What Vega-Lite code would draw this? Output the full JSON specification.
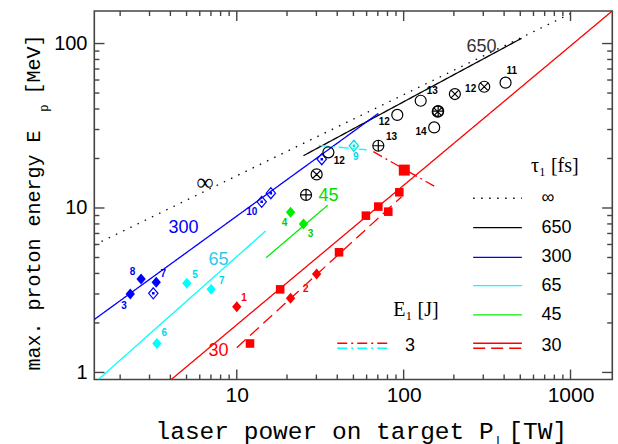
{
 "$schema": "https://vega.github.io/schema/vega-lite/v6.json",
 "width": 518,
 "height": 368.5,
 "autosize": {"type": "none"},
 "padding": {"left": 94.3, "top": 11, "right": 5.7, "bottom": 64.5},
 "background": "white",
 "config": {
  "view": {"stroke": "#444", "strokeWidth": 1.6},
  "axis": {"domain": false, "grid": false, "ticks": false, "labelColor": "#000", "titleColor": "#000"}
 },
 "datasets": {
  "ticks": [
   {"tid": "b10", "x": 10, "y": 0.906}, {"tid": "b10", "x": 10, "y": 1.042},
   {"tid": "b100", "x": 100, "y": 0.906}, {"tid": "b100", "x": 100, "y": 1.042},
   {"tid": "b1000", "x": 1000, "y": 0.906}, {"tid": "b1000", "x": 1000, "y": 1.042},
   {"tid": "t10", "x": 10, "y": 157.7}, {"tid": "t10", "x": 10, "y": 137.1},
   {"tid": "t100", "x": 100, "y": 157.7}, {"tid": "t100", "x": 100, "y": 137.1},
   {"tid": "t1000", "x": 1000, "y": 157.7}, {"tid": "t1000", "x": 1000, "y": 137.1},
   {"tid": "b2", "x": 2, "y": 0.906}, {"tid": "b2", "x": 2, "y": 0.971},
   {"tid": "b3", "x": 3, "y": 0.906}, {"tid": "b3", "x": 3, "y": 0.971},
   {"tid": "b4", "x": 4, "y": 0.906}, {"tid": "b4", "x": 4, "y": 0.971},
   {"tid": "b5", "x": 5, "y": 0.906}, {"tid": "b5", "x": 5, "y": 0.971},
   {"tid": "b6", "x": 6, "y": 0.906}, {"tid": "b6", "x": 6, "y": 0.971},
   {"tid": "b7", "x": 7, "y": 0.906}, {"tid": "b7", "x": 7, "y": 0.971},
   {"tid": "b8", "x": 8, "y": 0.906}, {"tid": "b8", "x": 8, "y": 0.971},
   {"tid": "b9", "x": 9, "y": 0.906}, {"tid": "b9", "x": 9, "y": 0.971},
   {"tid": "b20", "x": 20, "y": 0.906}, {"tid": "b20", "x": 20, "y": 0.971},
   {"tid": "b30", "x": 30, "y": 0.906}, {"tid": "b30", "x": 30, "y": 0.971},
   {"tid": "b40", "x": 40, "y": 0.906}, {"tid": "b40", "x": 40, "y": 0.971},
   {"tid": "b50", "x": 50, "y": 0.906}, {"tid": "b50", "x": 50, "y": 0.971},
   {"tid": "b60", "x": 60, "y": 0.906}, {"tid": "b60", "x": 60, "y": 0.971},
   {"tid": "b70", "x": 70, "y": 0.906}, {"tid": "b70", "x": 70, "y": 0.971},
   {"tid": "b80", "x": 80, "y": 0.906}, {"tid": "b80", "x": 80, "y": 0.971},
   {"tid": "b90", "x": 90, "y": 0.906}, {"tid": "b90", "x": 90, "y": 0.971},
   {"tid": "b200", "x": 200, "y": 0.906}, {"tid": "b200", "x": 200, "y": 0.971},
   {"tid": "b300", "x": 300, "y": 0.906}, {"tid": "b300", "x": 300, "y": 0.971},
   {"tid": "b400", "x": 400, "y": 0.906}, {"tid": "b400", "x": 400, "y": 0.971},
   {"tid": "b500", "x": 500, "y": 0.906}, {"tid": "b500", "x": 500, "y": 0.971},
   {"tid": "b600", "x": 600, "y": 0.906}, {"tid": "b600", "x": 600, "y": 0.971},
   {"tid": "b700", "x": 700, "y": 0.906}, {"tid": "b700", "x": 700, "y": 0.971},
   {"tid": "b800", "x": 800, "y": 0.906}, {"tid": "b800", "x": 800, "y": 0.971},
   {"tid": "b900", "x": 900, "y": 0.906}, {"tid": "b900", "x": 900, "y": 0.971},
   {"tid": "t2", "x": 2, "y": 157.7}, {"tid": "t2", "x": 2, "y": 147.0},
   {"tid": "t3", "x": 3, "y": 157.7}, {"tid": "t3", "x": 3, "y": 147.0},
   {"tid": "t4", "x": 4, "y": 157.7}, {"tid": "t4", "x": 4, "y": 147.0},
   {"tid": "t5", "x": 5, "y": 157.7}, {"tid": "t5", "x": 5, "y": 147.0},
   {"tid": "t6", "x": 6, "y": 157.7}, {"tid": "t6", "x": 6, "y": 147.0},
   {"tid": "t7", "x": 7, "y": 157.7}, {"tid": "t7", "x": 7, "y": 147.0},
   {"tid": "t8", "x": 8, "y": 157.7}, {"tid": "t8", "x": 8, "y": 147.0},
   {"tid": "t9", "x": 9, "y": 157.7}, {"tid": "t9", "x": 9, "y": 147.0},
   {"tid": "t20", "x": 20, "y": 157.7}, {"tid": "t20", "x": 20, "y": 147.0},
   {"tid": "t30", "x": 30, "y": 157.7}, {"tid": "t30", "x": 30, "y": 147.0},
   {"tid": "t40", "x": 40, "y": 157.7}, {"tid": "t40", "x": 40, "y": 147.0},
   {"tid": "t50", "x": 50, "y": 157.7}, {"tid": "t50", "x": 50, "y": 147.0},
   {"tid": "t60", "x": 60, "y": 157.7}, {"tid": "t60", "x": 60, "y": 147.0},
   {"tid": "t70", "x": 70, "y": 157.7}, {"tid": "t70", "x": 70, "y": 147.0},
   {"tid": "t80", "x": 80, "y": 157.7}, {"tid": "t80", "x": 80, "y": 147.0},
   {"tid": "t90", "x": 90, "y": 157.7}, {"tid": "t90", "x": 90, "y": 147.0},
   {"tid": "t200", "x": 200, "y": 157.7}, {"tid": "t200", "x": 200, "y": 147.0},
   {"tid": "t300", "x": 300, "y": 157.7}, {"tid": "t300", "x": 300, "y": 147.0},
   {"tid": "t400", "x": 400, "y": 157.7}, {"tid": "t400", "x": 400, "y": 147.0},
   {"tid": "t500", "x": 500, "y": 157.7}, {"tid": "t500", "x": 500, "y": 147.0},
   {"tid": "t600", "x": 600, "y": 157.7}, {"tid": "t600", "x": 600, "y": 147.0},
   {"tid": "t700", "x": 700, "y": 157.7}, {"tid": "t700", "x": 700, "y": 147.0},
   {"tid": "t800", "x": 800, "y": 157.7}, {"tid": "t800", "x": 800, "y": 147.0},
   {"tid": "t900", "x": 900, "y": 157.7}, {"tid": "t900", "x": 900, "y": 147.0},
   {"tid": "l1", "x": 1.4, "y": 1}, {"tid": "l1", "x": 1.611, "y": 1},
   {"tid": "l10", "x": 1.4, "y": 10}, {"tid": "l10", "x": 1.611, "y": 10},
   {"tid": "l100", "x": 1.4, "y": 100}, {"tid": "l100", "x": 1.611, "y": 100},
   {"tid": "r1", "x": 1780, "y": 1}, {"tid": "r1", "x": 1547, "y": 1},
   {"tid": "r10", "x": 1780, "y": 10}, {"tid": "r10", "x": 1547, "y": 10},
   {"tid": "r100", "x": 1780, "y": 100}, {"tid": "r100", "x": 1547, "y": 100},
   {"tid": "l2", "x": 1.4, "y": 2}, {"tid": "l2", "x": 1.502, "y": 2},
   {"tid": "l3", "x": 1.4, "y": 3}, {"tid": "l3", "x": 1.502, "y": 3},
   {"tid": "l4", "x": 1.4, "y": 4}, {"tid": "l4", "x": 1.502, "y": 4},
   {"tid": "l5", "x": 1.4, "y": 5}, {"tid": "l5", "x": 1.502, "y": 5},
   {"tid": "l6", "x": 1.4, "y": 6}, {"tid": "l6", "x": 1.502, "y": 6},
   {"tid": "l7", "x": 1.4, "y": 7}, {"tid": "l7", "x": 1.502, "y": 7},
   {"tid": "l8", "x": 1.4, "y": 8}, {"tid": "l8", "x": 1.502, "y": 8},
   {"tid": "l9", "x": 1.4, "y": 9}, {"tid": "l9", "x": 1.502, "y": 9},
   {"tid": "l20", "x": 1.4, "y": 20}, {"tid": "l20", "x": 1.502, "y": 20},
   {"tid": "l30", "x": 1.4, "y": 30}, {"tid": "l30", "x": 1.502, "y": 30},
   {"tid": "l40", "x": 1.4, "y": 40}, {"tid": "l40", "x": 1.502, "y": 40},
   {"tid": "l50", "x": 1.4, "y": 50}, {"tid": "l50", "x": 1.502, "y": 50},
   {"tid": "l60", "x": 1.4, "y": 60}, {"tid": "l60", "x": 1.502, "y": 60},
   {"tid": "l70", "x": 1.4, "y": 70}, {"tid": "l70", "x": 1.502, "y": 70},
   {"tid": "l80", "x": 1.4, "y": 80}, {"tid": "l80", "x": 1.502, "y": 80},
   {"tid": "l90", "x": 1.4, "y": 90}, {"tid": "l90", "x": 1.502, "y": 90},
   {"tid": "r2", "x": 1780, "y": 2}, {"tid": "r2", "x": 1659, "y": 2},
   {"tid": "r3", "x": 1780, "y": 3}, {"tid": "r3", "x": 1659, "y": 3},
   {"tid": "r4", "x": 1780, "y": 4}, {"tid": "r4", "x": 1659, "y": 4},
   {"tid": "r5", "x": 1780, "y": 5}, {"tid": "r5", "x": 1659, "y": 5},
   {"tid": "r6", "x": 1780, "y": 6}, {"tid": "r6", "x": 1659, "y": 6},
   {"tid": "r7", "x": 1780, "y": 7}, {"tid": "r7", "x": 1659, "y": 7},
   {"tid": "r8", "x": 1780, "y": 8}, {"tid": "r8", "x": 1659, "y": 8},
   {"tid": "r9", "x": 1780, "y": 9}, {"tid": "r9", "x": 1659, "y": 9},
   {"tid": "r20", "x": 1780, "y": 20}, {"tid": "r20", "x": 1659, "y": 20},
   {"tid": "r30", "x": 1780, "y": 30}, {"tid": "r30", "x": 1659, "y": 30},
   {"tid": "r40", "x": 1780, "y": 40}, {"tid": "r40", "x": 1659, "y": 40},
   {"tid": "r50", "x": 1780, "y": 50}, {"tid": "r50", "x": 1659, "y": 50},
   {"tid": "r60", "x": 1780, "y": 60}, {"tid": "r60", "x": 1659, "y": 60},
   {"tid": "r70", "x": 1780, "y": 70}, {"tid": "r70", "x": 1659, "y": 70},
   {"tid": "r80", "x": 1780, "y": 80}, {"tid": "r80", "x": 1659, "y": 80},
   {"tid": "r90", "x": 1780, "y": 90}, {"tid": "r90", "x": 1659, "y": 90}
  ],
  "lines": [
   {"line": "inf", "style": "inf", "x": 1.4, "y": 5.96},
   {"line": "inf", "style": "inf", "x": 1000, "y": 152},
   {"line": "650", "style": "650", "x": 25.1, "y": 20.8},
   {"line": "650", "style": "650", "x": 509, "y": 107.6},
   {"line": "300", "style": "300", "x": 1.4, "y": 2.1},
   {"line": "300", "style": "300", "x": 70.5, "y": 37.6},
   {"line": "65", "style": "65", "x": 1.48, "y": 0.906},
   {"line": "65", "style": "65", "x": 14.9, "y": 7.25},
   {"line": "45", "style": "45", "x": 15.0, "y": 4.99},
   {"line": "45", "style": "45", "x": 35.1, "y": 10.4},
   {"line": "30", "style": "30", "x": 4.05, "y": 0.906},
   {"line": "30", "style": "30", "x": 1778, "y": 157.7},
   {"line": "30d", "style": "30d", "x": 10, "y": 1.415},
   {"line": "30d", "style": "30d", "x": 97.2, "y": 11.7},
   {"line": "3c", "style": "3c", "x": 31, "y": 24.0},
   {"line": "3c", "style": "3c", "x": 60, "y": 22.6},
   {"line": "3r", "style": "3r", "x": 65.8, "y": 22.0},
   {"line": "3r", "style": "3r", "x": 153.9, "y": 13.5},
   {"line": "Linf", "style": "inf", "x": 261, "y": 11.46},
   {"line": "Linf", "style": "inf", "x": 511, "y": 11.46},
   {"line": "L650", "style": "650", "x": 261, "y": 7.59},
   {"line": "L650", "style": "650", "x": 511, "y": 7.59},
   {"line": "L300", "style": "300", "x": 261, "y": 5.01},
   {"line": "L300", "style": "300", "x": 511, "y": 5.01},
   {"line": "L65", "style": "65", "x": 261, "y": 3.37},
   {"line": "L65", "style": "65", "x": 511, "y": 3.37},
   {"line": "L45", "style": "45", "x": 261, "y": 2.24},
   {"line": "L45", "style": "45", "x": 511, "y": 2.24},
   {"line": "L30", "style": "30", "x": 261, "y": 1.505},
   {"line": "L30", "style": "30", "x": 511, "y": 1.505},
   {"line": "L30d", "style": "30d", "x": 261, "y": 1.403},
   {"line": "L30d", "style": "30d", "x": 511, "y": 1.403},
   {"line": "L3r", "style": "3r", "x": 40, "y": 1.505},
   {"line": "L3r", "style": "3r", "x": 80.9, "y": 1.505},
   {"line": "L3c", "style": "3c", "x": 40, "y": 1.403},
   {"line": "L3c", "style": "3c", "x": 80.9, "y": 1.403}
  ],
  "fpts": [
   {"g": "blue", "sym": "diamond", "x": 2.30, "y": 3.0},
   {"g": "blue", "sym": "diamond", "x": 2.67, "y": 3.70},
   {"g": "blue", "sym": "diamond", "x": 3.29, "y": 3.53},
   {"g": "cyan", "sym": "diamond", "x": 5.02, "y": 3.49},
   {"g": "cyan", "sym": "diamond", "x": 7.02, "y": 3.2},
   {"g": "cyan", "sym": "diamond", "x": 3.32, "y": 1.5},
   {"g": "green", "sym": "diamond", "x": 21.0, "y": 9.42},
   {"g": "green", "sym": "diamond", "x": 25.1, "y": 8.0},
   {"g": "red", "sym": "diamond", "x": 10, "y": 2.51},
   {"g": "red", "sym": "diamond", "x": 21.0, "y": 2.83},
   {"g": "red", "sym": "diamond", "x": 30.1, "y": 3.97},
   {"g": "red", "sym": "square", "x": 94.2, "y": 12.46},
   {"g": "red", "sym": "square", "x": 70.5, "y": 10.2},
   {"g": "red", "sym": "square", "x": 80.9, "y": 9.5},
   {"g": "red", "sym": "square", "x": 59.4, "y": 8.98},
   {"g": "red", "sym": "square", "x": 41.0, "y": 5.38},
   {"g": "red", "sym": "square", "x": 18.2, "y": 3.2},
   {"g": "red", "sym": "square", "x": 12.0, "y": 1.5},
   {"g": "red", "sym": "bigsquare", "x": 100.9, "y": 17.0}
  ],
  "opts": [
   {"g": "blue", "sym": "dotdiamond", "x": 3.16, "y": 3.03},
   {"g": "blue", "sym": "dotdiamond", "x": 14.1, "y": 10.9},
   {"g": "blue", "sym": "dotdiamond", "x": 16.0, "y": 12.3},
   {"g": "blue", "sym": "dotdiamond", "x": 32.3, "y": 19.8},
   {"g": "cyan", "sym": "dotdiamond", "x": 50.3, "y": 23.9},
   {"g": "black", "sym": "circle", "x": 35.4, "y": 21.8},
   {"g": "black", "sym": "circle", "x": 91.6, "y": 36.8},
   {"g": "black", "sym": "circle", "x": 126.5, "y": 44.9},
   {"g": "black", "sym": "circle", "x": 152.4, "y": 30.9},
   {"g": "black", "sym": "circle", "x": 408, "y": 57.8},
   {"g": "black", "sym": "otimes", "x": 160, "y": 38.5},
   {"g": "black", "sym": "oplus", "x": 161, "y": 38.8},
   {"g": "black", "sym": "otimes", "x": 202.8, "y": 49.3},
   {"g": "black", "sym": "otimes", "x": 304, "y": 54.6},
   {"g": "black", "sym": "otimes", "x": 30.1, "y": 16.0},
   {"g": "black", "sym": "oplus", "x": 70.5, "y": 23.9},
   {"g": "black", "sym": "oplus", "x": 26.0, "y": 12.0}
  ],
  "nums": [
   {"t": "3", "g": "blue", "x": 2.11, "y": 2.54},
   {"t": "8", "g": "blue", "x": 2.37, "y": 4.07},
   {"t": "7", "g": "blue", "x": 3.63, "y": 3.97},
   {"t": "10", "g": "blue", "x": 12.3, "y": 9.5},
   {"t": "5", "g": "cyan", "x": 5.63, "y": 3.91},
   {"t": "7", "g": "cyan", "x": 8.13, "y": 3.61},
   {"t": "6", "g": "cyan", "x": 3.68, "y": 1.73},
   {"t": "9", "g": "cyan", "x": 51.6, "y": 20.5},
   {"t": "4", "g": "green", "x": 19.3, "y": 8.07},
   {"t": "3", "g": "green", "x": 27.7, "y": 6.92},
   {"t": "1", "g": "red", "x": 11.06, "y": 2.83},
   {"t": "2", "g": "red", "x": 25.9, "y": 3.2},
   {"t": "12", "g": "black", "x": 41.1, "y": 19.3},
   {"t": "12", "g": "black", "x": 76.6, "y": 33.5},
   {"t": "13", "g": "black", "x": 148.3, "y": 51.7},
   {"t": "14", "g": "black", "x": 127, "y": 29.1},
   {"t": "12", "g": "black", "x": 252, "y": 52.7},
   {"t": "11", "g": "black", "x": 444, "y": 68.1},
   {"t": "13", "g": "black", "x": 84.7, "y": 26.9}
  ],
  "big": [
   {"t": "300", "g": "blue", "x": 4.79, "y": 7.53},
   {"t": "65", "g": "cyan", "x": 7.76, "y": 4.83},
   {"t": "45", "g": "green", "x": 35.4, "y": 11.8},
   {"t": "30", "g": "red", "x": 7.76, "y": 1.35},
   {"t": "650", "g": "black", "x": 293, "y": 95.6}
  ],
  "legtext": [
   {"t": "∞", "x": 670, "y": 11.46},
   {"t": "650", "x": 670, "y": 7.59},
   {"t": "300", "x": 670, "y": 5.01},
   {"t": "65", "x": 670, "y": 3.37},
   {"t": "45", "x": 670, "y": 2.24},
   {"t": "30", "x": 670, "y": 1.45},
   {"t": "3", "x": 102, "y": 1.45}
  ],
  "legtitle": [
   {"t": "τ₁ [fs]", "x": 805, "y": 18.0},
   {"t": "E₁ [J]", "x": 118.6, "y": 2.40}
  ],
  "inf": [
   {"t": "∞", "x": 6.46, "y": 14.2}
  ],
  "subx": [
   {"t": "L", "x": 376, "y": 0.3835}
  ],
  "suby": [
   {"t": "p", "x": 0.70, "y": 40.5}
  ]
 },
 "encoding": {
  "x": {"field": "x", "type": "quantitative", "scale": {"type": "log", "domain": [1.4, 1780], "nice": false}, "axis": null},
  "y": {"field": "y", "type": "quantitative", "scale": {"type": "log", "domain": [0.906, 157.7], "nice": false}, "axis": null}
 },
 "layer": [
  {
   "data": {"name": "lines"},
   "mark": {"type": "line", "strokeWidth": 1.3, "clip": true},
   "encoding": {
    "x": {"field": "x", "type": "quantitative", "scale": {"type": "log", "domain": [1.4, 1780], "nice": false},
     "axis": {"orient": "bottom", "values": [10, 100, 1000], "format": "d", "ticks": false, "labelPadding": 21.5, "labelBaseline": "alphabetic", "labelFont": "Liberation Sans", "labelFontSize": 21, "labelFlush": false, "labelOverlap": false,
      "title": "laser power on target P [TW]", "titleFont": "Liberation Mono", "titleFontSize": 24.5, "titleFontWeight": "normal", "titleX": 60.7, "titleY": 58.5, "titleBaseline": "alphabetic", "titleAlign": "left", "titleAnchor": "start"}},
    "y": {"field": "y", "type": "quantitative", "scale": {"type": "log", "domain": [0.906, 157.7], "nice": false},
     "axis": {"orient": "left", "values": [1, 10, 100], "format": "d", "ticks": false, "labelPadding": 7.3, "labelFont": "Liberation Sans", "labelFontSize": 20, "labelFlush": false, "labelOverlap": false,
      "title": "max. proton energy E\u00a0\u00a0\u00a0[MeV]", "titleFont": "Liberation Mono", "titleFontSize": 20, "titleFontWeight": "normal", "titleX": -55.3, "titleY": 359, "titleAngle": 270, "titleBaseline": "alphabetic", "titleAlign": "left", "titleAnchor": "start"}},
    "color": {"field": "style", "type": "nominal", "legend": null,
     "scale": {"domain": ["inf", "650", "300", "65", "45", "30", "30d", "3c", "3r"], "range": ["#000000", "#000000", "#0000ff", "#00ffff", "#00ee00", "#ff0000", "#ff0000", "#00ffff", "#ff0000"]}},
    "strokeDash": {"field": "style", "type": "nominal", "legend": null,
     "scale": {"domain": ["inf", "650", "300", "65", "45", "30", "30d", "3c", "3r"], "range": [[1.5, 6.5], [1, 0], [1, 0], [1, 0], [1, 0], [1, 0], [12, 6], [10, 4, 2, 4], [10, 4, 2, 4]]}},
    "detail": {"field": "line", "type": "nominal"}
   }
  },
  {
   "data": {"name": "ticks"},
   "mark": {"type": "line", "strokeWidth": 1.4, "color": "#444444"},
   "encoding": {
    "detail": {"field": "tid", "type": "nominal"},
    "order": {"field": "y", "type": "quantitative"}
   }
  },
  {
   "data": {"name": "fpts"},
   "mark": {"type": "point", "filled": true, "opacity": 1, "size": 121},
   "encoding": {
    "shape": {"field": "sym", "type": "nominal", "legend": null,
     "scale": {"domain": ["diamond", "square", "bigsquare"], "range": ["M0,-1L0.85,0L0,1L-0.85,0Z", "M-0.78,-0.78L0.78,-0.78L0.78,0.78L-0.78,0.78Z", "M-1,-1L1,-1L1,1L-1,1Z"]}},
    "color": {"field": "g", "type": "nominal", "legend": null,
     "scale": {"domain": ["blue", "cyan", "green", "red"], "range": ["#0000ff", "#00ffff", "#00ee00", "#ff0000"]}}
   }
  },
  {
   "data": {"name": "opts"},
   "mark": {"type": "point", "filled": false, "opacity": 1, "size": 121, "strokeWidth": 1.2},
   "encoding": {
    "shape": {"field": "sym", "type": "nominal", "legend": null,
     "scale": {"domain": ["circle", "otimes", "oplus", "dotdiamond"], "range": ["circle", "M1,0A1,1,0,1,1,-1,0A1,1,0,1,1,1,0ZM-0.7,-0.7L0.7,0.7M-0.7,0.7L0.7,-0.7", "M1,0A1,1,0,1,1,-1,0A1,1,0,1,1,1,0ZM-1,0L1,0M0,-1L0,1", "M0,-1L0.85,0L0,1L-0.85,0ZM-0.12,-0.12L0.12,-0.12L0.12,0.12L-0.12,0.12Z"]}},
    "color": {"field": "g", "type": "nominal", "legend": null,
     "scale": {"domain": ["blue", "cyan", "black"], "range": ["#0000ff", "#00e0e0", "#000000"]}}
   }
  },
  {
   "data": {"name": "nums"},
   "mark": {"type": "text", "font": "Liberation Sans", "fontWeight": "bold", "fontSize": 10, "align": "center", "baseline": "middle"},
   "encoding": {
    "text": {"field": "t"},
    "color": {"field": "g", "type": "nominal", "legend": null,
     "scale": {"domain": ["blue", "cyan", "green", "red", "black"], "range": ["#0000ee", "#00d8e8", "#00cc00", "#ff0000", "#000000"]}}
   }
  },
  {
   "data": {"name": "big"},
   "mark": {"type": "text", "font": "Liberation Sans", "fontSize": 18, "align": "center", "baseline": "middle"},
   "encoding": {
    "text": {"field": "t"},
    "color": {"field": "g", "type": "nominal", "legend": null,
     "scale": {"domain": ["blue", "cyan", "green", "red", "black"], "range": ["#0000ff", "#30c8f0", "#00dd00", "#ff0000", "#333333"]}}
   }
  },
  {
   "data": {"name": "legtext"},
   "mark": {"type": "text", "font": "Liberation Sans", "fontSize": 18, "align": "left", "baseline": "middle", "color": "#000000"},
   "encoding": {"text": {"field": "t"}}
  },
  {
   "data": {"name": "legtitle"},
   "mark": {"type": "text", "font": "Liberation Serif", "fontSize": 20, "align": "center", "baseline": "middle", "color": "#000000"},
   "encoding": {"text": {"field": "t"}}
  },
  {
   "data": {"name": "inf"},
   "mark": {"type": "text", "font": "Liberation Serif", "fontSize": 24, "align": "center", "baseline": "middle", "color": "#000000"},
   "encoding": {"text": {"field": "t"}}
  },
  {
   "data": {"name": "subx"},
   "mark": {"type": "text", "font": "Liberation Mono", "fontSize": 12, "align": "center", "baseline": "middle", "color": "#000000"},
   "encoding": {"text": {"field": "t"}}
  },
  {
   "data": {"name": "suby"},
   "mark": {"type": "text", "font": "Liberation Mono", "fontSize": 12, "align": "center", "baseline": "middle", "angle": 270, "color": "#000000"},
   "encoding": {"text": {"field": "t"}}
  }
 ],
 "resolve": {
  "axis": {"x": "independent", "y": "independent"},
  "scale": {"color": "independent", "shape": "independent", "strokeDash": "independent"}
 }
}
